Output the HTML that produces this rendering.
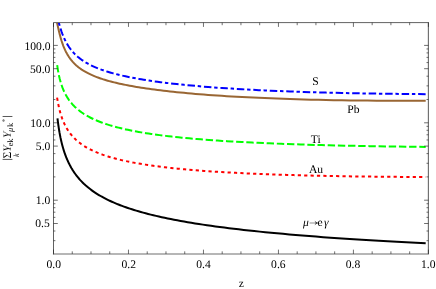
<!DOCTYPE html>
<html><head><meta charset="utf-8"><title>plot</title>
<style>html,body{margin:0;padding:0;background:#fff}svg{display:block;will-change:transform}text{text-rendering:geometricPrecision;font-family:"Liberation Serif",serif;fill:#000}</style></head><body>
<svg width="436" height="289" viewBox="0 0 436 289">
<defs><clipPath id="c"><rect x="53.5" y="22.6" width="374.9" height="231.35"/></clipPath></defs>
<g clip-path="url(#c)" fill="none" stroke-width="2">
<path d="M57.48,118.35 L57.59,119.28 L57.70,120.21 L57.81,121.14 L57.93,122.06 L58.05,122.99 L58.18,123.92 L58.30,124.84 L58.43,125.76 L58.57,126.69 L58.71,127.61 L58.85,128.52 L58.99,129.44 L59.14,130.36 L59.30,131.27 L59.45,132.19 L59.62,133.10 L59.78,134.01 L59.95,134.92 L60.13,135.83 L60.31,136.73 L60.49,137.64 L60.69,138.54 L60.88,139.44 L61.08,140.34 L61.29,141.24 L61.50,142.13 L61.72,143.03 L61.94,143.92 L62.17,144.81 L62.41,145.69 L62.65,146.58 L62.90,147.46 L63.15,148.34 L63.42,149.22 L63.69,150.10 L63.96,150.97 L64.25,151.85 L64.54,152.72 L64.84,153.59 L65.15,154.45 L65.47,155.32 L65.79,156.18 L66.13,157.04 L66.47,157.89 L66.83,158.75 L67.19,159.60 L67.56,160.45 L67.94,161.30 L68.34,162.14 L68.74,162.99 L69.15,163.83 L69.58,164.66 L70.02,165.50 L70.47,166.33 L70.93,167.16 L71.40,167.99 L71.89,168.81 L72.39,169.64 L72.91,170.46 L73.43,171.27 L73.98,172.09 L74.53,172.90 L75.11,173.71 L75.70,174.52 L76.30,175.32 L76.92,176.12 L77.56,176.92 L78.21,177.72 L78.88,178.51 L79.58,179.30 L80.28,180.09 L81.01,180.87 L81.76,181.66 L82.53,182.44 L83.32,183.21 L84.13,183.99 L84.97,184.76 L85.82,185.53 L86.70,186.29 L87.61,187.06 L88.54,187.82 L89.49,188.58 L90.47,189.33 L91.48,190.08 L92.51,190.83 L93.57,191.58 L94.66,192.32 L95.78,193.06 L96.93,193.80 L98.11,194.53 L99.33,195.27 L100.58,196.00 L101.86,196.72 L103.17,197.45 L104.52,198.17 L105.91,198.89 L107.34,199.60 L108.81,200.31 L110.31,201.02 L111.86,201.73 L113.45,202.43 L115.08,203.13 L116.75,203.83 L118.47,204.53 L120.24,205.22 L122.06,205.91 L123.92,206.59 L125.84,207.28 L127.81,207.96 L129.83,208.64 L131.91,209.31 L134.04,209.98 L136.24,210.65 L138.49,211.32 L140.80,211.98 L143.18,212.64 L145.62,213.30 L148.13,213.95 L150.70,214.60 L153.35,215.25 L156.06,215.90 L158.86,216.54 L161.72,217.18 L164.67,217.82 L167.69,218.45 L170.80,219.08 L173.99,219.71 L177.27,220.33 L180.64,220.96 L184.10,221.57 L187.66,222.19 L191.31,222.80 L195.06,223.41 L198.91,224.02 L202.87,224.62 L206.94,225.23 L211.11,225.82 L215.40,226.42 L219.81,227.01 L224.33,227.60 L228.98,228.18 L233.76,228.77 L238.67,229.35 L243.71,229.92 L248.88,230.50 L254.20,231.07 L259.66,231.63 L265.27,232.20 L271.04,232.76 L276.96,233.32 L283.04,233.87 L289.29,234.42 L295.70,234.97 L302.30,235.52 L309.07,236.06 L316.02,236.60 L323.17,237.13 L330.51,237.67 L338.05,238.20 L345.79,238.72 L353.75,239.24 L361.92,239.76 L370.31,240.28 L378.94,240.79 L387.79,241.30 L396.89,241.81 L406.24,242.31 L415.84,242.81 L425.70,243.30" stroke="#000000"/>
<path d="M57.11,97.68 L57.21,98.31 L57.31,98.95 L57.42,99.59 L57.53,100.23 L57.64,100.87 L57.76,101.51 L57.87,102.16 L58.00,102.81 L58.12,103.46 L58.25,104.11 L58.38,104.76 L58.52,105.41 L58.66,106.07 L58.80,106.72 L58.95,107.38 L59.10,108.04 L59.25,108.69 L59.41,109.35 L59.58,110.01 L59.75,110.66 L59.92,111.32 L60.10,111.98 L60.28,112.64 L60.47,113.29 L60.67,113.95 L60.87,114.60 L61.07,115.26 L61.28,115.91 L61.50,116.56 L61.72,117.22 L61.95,117.87 L62.18,118.52 L62.43,119.16 L62.67,119.81 L62.93,120.46 L63.19,121.10 L63.46,121.74 L63.74,122.38 L64.02,123.02 L64.31,123.66 L64.62,124.29 L64.92,124.92 L65.24,125.55 L65.57,126.18 L65.90,126.81 L66.25,127.43 L66.60,128.06 L66.97,128.68 L67.34,129.29 L67.73,129.91 L68.12,130.52 L68.53,131.13 L68.95,131.74 L69.38,132.35 L69.82,132.95 L70.27,133.55 L70.74,134.15 L71.22,134.74 L71.71,135.33 L72.22,135.92 L72.74,136.51 L73.27,137.09 L73.82,137.67 L74.39,138.25 L74.97,138.82 L75.57,139.40 L76.18,139.97 L76.81,140.53 L77.46,141.10 L78.13,141.66 L78.81,142.21 L79.52,142.77 L80.24,143.32 L80.98,143.87 L81.75,144.41 L82.53,144.95 L83.34,145.49 L84.17,146.03 L85.02,146.56 L85.90,147.09 L86.80,147.61 L87.73,148.14 L88.68,148.65 L89.66,149.17 L90.66,149.68 L91.70,150.19 L92.76,150.70 L93.85,151.20 L94.97,151.70 L96.12,152.20 L97.31,152.69 L98.53,153.18 L99.78,153.67 L101.07,154.15 L102.39,154.63 L103.75,155.10 L105.15,155.58 L106.58,156.04 L108.06,156.51 L109.58,156.97 L111.14,157.43 L112.74,157.88 L114.39,158.33 L116.08,158.78 L117.82,159.22 L119.61,159.66 L121.45,160.10 L123.34,160.53 L125.28,160.96 L127.28,161.38 L129.33,161.80 L131.44,162.22 L133.60,162.63 L135.83,163.04 L138.12,163.44 L140.48,163.84 L142.89,164.24 L145.38,164.63 L147.94,165.02 L150.56,165.40 L153.26,165.78 L156.04,166.15 L158.89,166.52 L161.82,166.89 L164.83,167.25 L167.93,167.61 L171.11,167.96 L174.38,168.30 L177.74,168.64 L181.20,168.98 L184.75,169.31 L188.40,169.64 L192.15,169.96 L196.00,170.27 L199.97,170.58 L204.04,170.89 L208.23,171.19 L212.53,171.48 L216.95,171.77 L221.50,172.05 L226.17,172.33 L230.97,172.60 L235.91,172.86 L240.98,173.12 L246.19,173.37 L251.55,173.61 L257.06,173.85 L262.72,174.08 L268.54,174.30 L274.52,174.52 L280.67,174.72 L286.98,174.93 L293.48,175.12 L300.15,175.31 L307.01,175.48 L314.06,175.65 L321.31,175.81 L328.75,175.97 L336.41,176.11 L344.28,176.25 L352.36,176.38 L360.68,176.49 L369.22,176.60 L378.00,176.70 L387.02,176.79 L396.30,176.87 L405.83,176.94 L415.63,177.00 L425.70,177.05" stroke="#ff0000" stroke-dasharray="3.2 3.187"/>
<path d="M57.20,65.22 L57.30,65.97 L57.41,66.71 L57.52,67.44 L57.63,68.17 L57.74,68.90 L57.86,69.63 L57.98,70.35 L58.10,71.06 L58.23,71.78 L58.36,72.49 L58.50,73.19 L58.63,73.90 L58.78,74.60 L58.92,75.29 L59.07,75.99 L59.23,76.68 L59.38,77.37 L59.55,78.05 L59.71,78.73 L59.89,79.41 L60.06,80.08 L60.24,80.76 L60.43,81.43 L60.62,82.09 L60.82,82.76 L61.02,83.42 L61.23,84.08 L61.44,84.73 L61.66,85.38 L61.89,86.03 L62.12,86.68 L62.36,87.33 L62.60,87.97 L62.86,88.61 L63.11,89.24 L63.38,89.88 L63.65,90.51 L63.93,91.14 L64.22,91.77 L64.52,92.39 L64.82,93.01 L65.14,93.63 L65.46,94.25 L65.79,94.87 L66.13,95.48 L66.48,96.09 L66.84,96.70 L67.21,97.30 L67.59,97.90 L67.98,98.50 L68.38,99.10 L68.79,99.70 L69.21,100.29 L69.65,100.88 L70.09,101.47 L70.55,102.06 L71.02,102.64 L71.51,103.22 L72.01,103.80 L72.52,104.38 L73.04,104.96 L73.59,105.53 L74.14,106.10 L74.71,106.67 L75.30,107.23 L75.90,107.79 L76.52,108.35 L77.16,108.91 L77.81,109.47 L78.48,110.02 L79.18,110.57 L79.89,111.12 L80.62,111.66 L81.37,112.21 L82.14,112.75 L82.93,113.28 L83.74,113.82 L84.58,114.35 L85.44,114.88 L86.32,115.41 L87.23,115.93 L88.16,116.45 L89.12,116.97 L90.11,117.49 L91.12,118.00 L92.16,118.51 L93.23,119.02 L94.33,119.53 L95.46,120.03 L96.62,120.53 L97.81,121.03 L99.04,121.52 L100.30,122.01 L101.59,122.50 L102.92,122.98 L104.29,123.46 L105.69,123.94 L107.14,124.41 L108.62,124.89 L110.14,125.35 L111.71,125.82 L113.32,126.28 L114.98,126.74 L116.68,127.19 L118.42,127.64 L120.22,128.09 L122.07,128.54 L123.96,128.98 L125.91,129.41 L127.91,129.85 L129.97,130.28 L132.09,130.70 L134.26,131.12 L136.49,131.54 L138.79,131.96 L141.15,132.37 L143.57,132.77 L146.07,133.17 L148.63,133.57 L151.26,133.97 L153.96,134.35 L156.74,134.74 L159.60,135.12 L162.53,135.50 L165.55,135.87 L168.65,136.24 L171.83,136.60 L175.10,136.96 L178.47,137.31 L181.92,137.66 L185.48,138.01 L189.13,138.34 L192.88,138.68 L196.73,139.01 L200.69,139.33 L204.77,139.65 L208.95,139.97 L213.25,140.28 L217.67,140.58 L222.21,140.88 L226.88,141.17 L231.67,141.46 L236.60,141.74 L241.66,142.02 L246.87,142.29 L252.22,142.56 L257.71,142.82 L263.36,143.07 L269.17,143.32 L275.13,143.56 L281.26,143.80 L287.56,144.03 L294.04,144.25 L300.69,144.47 L307.53,144.68 L314.56,144.89 L321.78,145.09 L329.20,145.28 L336.82,145.46 L344.66,145.64 L352.71,145.82 L360.99,145.98 L369.49,146.14 L378.23,146.29 L387.22,146.44 L396.45,146.58 L405.93,146.71 L415.68,146.83 L425.70,146.95" stroke="#00ff00" stroke-dasharray="7.4 2.78" stroke-dashoffset="0.15"/>
<path d="M57.00,22.60 L57.07,22.90 L57.17,23.34 L57.28,23.79 L57.39,24.27 L57.50,24.76 L57.62,25.28 L57.73,25.81 L57.86,26.36 L57.98,26.92 L58.11,27.50 L58.24,28.10 L58.38,28.70 L58.52,29.32 L58.66,29.96 L58.81,30.60 L58.96,31.25 L59.12,31.91 L59.28,32.58 L59.45,33.26 L59.62,33.94 L59.79,34.63 L59.98,35.33 L60.16,36.03 L60.35,36.74 L60.55,37.45 L60.75,38.16 L60.96,38.88 L61.18,39.59 L61.40,40.31 L61.62,41.04 L61.86,41.76 L62.10,42.48 L62.34,43.20 L62.60,43.92 L62.86,44.64 L63.13,45.36 L63.40,46.08 L63.69,46.80 L63.98,47.51 L64.28,48.22 L64.59,48.93 L64.91,49.63 L65.24,50.34 L65.58,51.03 L65.92,51.73 L66.28,52.42 L66.65,53.10 L67.03,53.79 L67.42,54.46 L67.81,55.13 L68.23,55.80 L68.65,56.46 L69.08,57.12 L69.53,57.77 L69.99,58.42 L70.47,59.06 L70.95,59.69 L71.46,60.32 L71.97,60.94 L72.50,61.56 L73.05,62.17 L73.61,62.78 L74.19,63.38 L74.78,63.98 L75.40,64.57 L76.02,65.15 L76.67,65.73 L77.34,66.30 L78.02,66.87 L78.73,67.43 L79.45,67.98 L80.20,68.53 L80.97,69.07 L81.75,69.61 L82.57,70.15 L83.40,70.67 L84.26,71.20 L85.15,71.71 L86.05,72.22 L86.99,72.73 L87.95,73.23 L88.94,73.73 L89.96,74.22 L91.01,74.71 L92.09,75.20 L93.20,75.68 L94.34,76.15 L95.51,76.62 L96.72,77.09 L97.96,77.55 L99.24,78.01 L100.55,78.46 L101.90,78.91 L103.29,79.36 L104.72,79.81 L106.20,80.25 L107.71,80.68 L109.27,81.12 L110.87,81.55 L112.52,81.98 L114.22,82.40 L115.96,82.82 L117.76,83.24 L119.60,83.66 L121.50,84.07 L123.46,84.48 L125.47,84.89 L127.53,85.29 L129.66,85.70 L131.85,86.10 L134.10,86.50 L136.42,86.89 L138.80,87.28 L141.25,87.67 L143.77,88.06 L146.37,88.45 L149.04,88.83 L151.78,89.21 L154.61,89.59 L157.51,89.97 L160.50,90.34 L163.58,90.71 L166.74,91.08 L169.99,91.44 L173.34,91.80 L176.79,92.16 L180.33,92.51 L183.97,92.87 L187.72,93.21 L191.58,93.56 L195.55,93.90 L199.63,94.23 L203.83,94.57 L208.15,94.89 L212.59,95.22 L217.16,95.53 L221.87,95.84 L226.71,96.15 L231.68,96.45 L236.80,96.75 L242.07,97.03 L247.49,97.31 L253.06,97.59 L258.80,97.85 L264.70,98.11 L270.77,98.36 L277.01,98.60 L283.43,98.83 L290.04,99.05 L296.84,99.26 L303.83,99.46 L311.03,99.65 L318.43,99.83 L326.04,99.99 L333.87,100.14 L341.93,100.28 L350.22,100.40 L358.74,100.51 L367.52,100.60 L376.54,100.68 L385.82,100.73 L395.37,100.77 L405.20,100.79 L415.30,100.79 L425.70,100.77" stroke="#996633"/>
<path d="M58.79,22.60 L58.81,22.66 L58.96,23.22 L59.12,23.78 L59.28,24.36 L59.45,24.95 L59.62,25.54 L59.79,26.15 L59.98,26.76 L60.16,27.38 L60.35,28.00 L60.55,28.63 L60.75,29.27 L60.96,29.91 L61.18,30.56 L61.40,31.21 L61.62,31.86 L61.86,32.52 L62.10,33.18 L62.34,33.84 L62.60,34.50 L62.86,35.17 L63.13,35.83 L63.40,36.50 L63.69,37.17 L63.98,37.84 L64.28,38.51 L64.59,39.18 L64.91,39.85 L65.24,40.51 L65.58,41.18 L65.92,41.85 L66.28,42.51 L66.65,43.17 L67.03,43.83 L67.42,44.49 L67.81,45.15 L68.23,45.80 L68.65,46.45 L69.08,47.10 L69.53,47.74 L69.99,48.38 L70.47,49.02 L70.95,49.66 L71.46,50.29 L71.97,50.91 L72.50,51.54 L73.05,52.16 L73.61,52.78 L74.19,53.39 L74.78,54.00 L75.40,54.60 L76.02,55.20 L76.67,55.80 L77.34,56.39 L78.02,56.98 L78.73,57.56 L79.45,58.14 L80.20,58.72 L80.97,59.29 L81.75,59.86 L82.57,60.42 L83.40,60.98 L84.26,61.53 L85.15,62.08 L86.05,62.63 L86.99,63.17 L87.95,63.71 L88.94,64.24 L89.96,64.77 L91.01,65.29 L92.09,65.81 L93.20,66.33 L94.34,66.84 L95.51,67.35 L96.72,67.86 L97.96,68.36 L99.24,68.86 L100.55,69.35 L101.90,69.84 L103.29,70.32 L104.72,70.81 L106.20,71.29 L107.71,71.76 L109.27,72.23 L110.87,72.70 L112.52,73.16 L114.22,73.63 L115.96,74.08 L117.76,74.54 L119.60,74.99 L121.50,75.44 L123.46,75.88 L125.47,76.32 L127.53,76.76 L129.66,77.19 L131.85,77.63 L134.10,78.05 L136.42,78.48 L138.80,78.90 L141.25,79.32 L143.77,79.74 L146.37,80.15 L149.04,80.56 L151.78,80.96 L154.61,81.37 L157.51,81.76 L160.50,82.16 L163.58,82.55 L166.74,82.94 L169.99,83.33 L173.34,83.71 L176.79,84.09 L180.33,84.46 L183.97,84.83 L187.72,85.20 L191.58,85.56 L195.55,85.92 L199.63,86.28 L203.83,86.63 L208.15,86.97 L212.59,87.31 L217.16,87.65 L221.87,87.98 L226.71,88.30 L231.68,88.62 L236.80,88.94 L242.07,89.25 L247.49,89.55 L253.06,89.85 L258.80,90.13 L264.70,90.42 L270.77,90.69 L277.01,90.96 L283.43,91.22 L290.04,91.48 L296.84,91.72 L303.83,91.96 L311.03,92.18 L318.43,92.40 L326.04,92.61 L333.87,92.81 L341.93,92.99 L350.22,93.17 L358.74,93.33 L367.52,93.49 L376.54,93.63 L385.82,93.76 L395.37,93.87 L405.20,93.97 L415.30,94.06 L425.70,94.13" stroke="#0000ff" stroke-dasharray="7.5 2.76 3.42 2.81" stroke-dashoffset="10.4"/>
</g>
<path d="M53.5,253.95V22.6H428.4" fill="none" stroke="#5a5a5a" stroke-width="0.95" stroke-linecap="square"/><path d="M428.4,22.6V253.95H53.5" fill="none" stroke="#6e6e6e" stroke-width="1.15" stroke-linecap="square"/>
<path d="M53.50,253.95v-4.3M53.50,22.6v4.3M72.25,253.95v-2.6M72.25,22.6v2.6M90.99,253.95v-2.6M90.99,22.6v2.6M109.74,253.95v-2.6M109.74,22.6v2.6M128.48,253.95v-4.3M128.48,22.6v4.3M147.22,253.95v-2.6M147.22,22.6v2.6M165.97,253.95v-2.6M165.97,22.6v2.6M184.72,253.95v-2.6M184.72,22.6v2.6M203.46,253.95v-4.3M203.46,22.6v4.3M222.20,253.95v-2.6M222.20,22.6v2.6M240.95,253.95v-2.6M240.95,22.6v2.6M259.69,253.95v-2.6M259.69,22.6v2.6M278.44,253.95v-4.3M278.44,22.6v4.3M297.19,253.95v-2.6M297.19,22.6v2.6M315.93,253.95v-2.6M315.93,22.6v2.6M334.67,253.95v-2.6M334.67,22.6v2.6M353.42,253.95v-4.3M353.42,22.6v4.3M372.17,253.95v-2.6M372.17,22.6v2.6M390.91,253.95v-2.6M390.91,22.6v2.6M409.66,253.95v-2.6M409.66,22.6v2.6M428.40,253.95v-4.3M428.40,22.6v4.3M53.5,45.40h4.3M428.4,45.40h-4.3M53.5,68.70h4.3M428.4,68.70h-4.3M53.5,122.80h4.3M428.4,122.80h-4.3M53.5,146.10h4.3M428.4,146.10h-4.3M53.5,200.20h4.3M428.4,200.20h-4.3M53.5,223.50h4.3M428.4,223.50h-4.3M53.5,240.67h1.9M428.4,240.67h-1.9M53.5,231.00h1.9M428.4,231.00h-1.9M53.5,217.37h1.9M428.4,217.37h-1.9M53.5,212.19h1.9M428.4,212.19h-1.9M53.5,207.70h1.9M428.4,207.70h-1.9M53.5,203.74h1.9M428.4,203.74h-1.9M53.5,176.90h1.9M428.4,176.90h-1.9M53.5,163.27h1.9M428.4,163.27h-1.9M53.5,153.60h1.9M428.4,153.60h-1.9M53.5,139.97h1.9M428.4,139.97h-1.9M53.5,134.79h1.9M428.4,134.79h-1.9M53.5,130.30h1.9M428.4,130.30h-1.9M53.5,126.34h1.9M428.4,126.34h-1.9M53.5,99.50h1.9M428.4,99.50h-1.9M53.5,85.87h1.9M428.4,85.87h-1.9M53.5,76.20h1.9M428.4,76.20h-1.9M53.5,62.57h1.9M428.4,62.57h-1.9M53.5,57.39h1.9M428.4,57.39h-1.9M53.5,52.90h1.9M428.4,52.90h-1.9M53.5,48.94h1.9M428.4,48.94h-1.9" fill="none" stroke="#222" stroke-width="0.65"/>
<text x="50.60" y="49.80" font-size="11.6" text-anchor="end">100.0</text>
<text x="50.35" y="72.80" font-size="11.6" text-anchor="end">50.0</text>
<text x="50.60" y="127.20" font-size="11.6" text-anchor="end">10.0</text>
<text x="50.35" y="149.80" font-size="11.6" text-anchor="end">5.0</text>
<text x="50.30" y="203.90" font-size="11.6" text-anchor="end">1.0</text>
<text x="49.70" y="227.10" font-size="11.6" text-anchor="end">0.5</text>
<text x="53.80" y="267.8" font-size="11.6" text-anchor="middle">0.0</text>
<text x="128.78" y="267.8" font-size="11.6" text-anchor="middle">0.2</text>
<text x="203.56" y="267.8" font-size="11.6" text-anchor="middle">0.4</text>
<text x="278.34" y="267.8" font-size="11.6" text-anchor="middle">0.6</text>
<text x="353.02" y="267.8" font-size="11.6" text-anchor="middle">0.8</text>
<text x="428.30" y="267.8" font-size="11.6" text-anchor="middle">1.0</text>
<text x="241.3" y="286.6" font-size="11.6" text-anchor="middle">z</text>
<text x="315.5" y="85" font-size="11.6" text-anchor="middle">S</text>
<text x="353.4" y="113" font-size="11.6" text-anchor="middle">Pb</text>
<text x="315.7" y="143" font-size="11.6" text-anchor="middle">Ti</text>
<text x="316" y="173" font-size="11.6" text-anchor="middle">Au</text>
<text x="306.0" y="225.8" font-size="11.6" text-anchor="middle" font-style="italic">μ</text><text x="320.0" y="225.8" font-size="11.6" text-anchor="middle">e</text><text x="326.3" y="225.8" font-size="11.6" text-anchor="middle" font-style="italic">γ</text>
<path d="M309.6,223H317" fill="none" stroke="#444" stroke-width="0.6"/><path d="M314.9,221.4Q315.9,222.7 317.6,223Q315.9,223.3 314.9,224.6" fill="none" stroke="#111" stroke-width="0.8"/>
<g transform="translate(0,159.4) rotate(-90)"><path d="M0,2.6V12.4M42.9,2.6V12.4" stroke="#222" stroke-width="0.75" fill="none"/><text x="4.3" y="10.7" font-size="11.6" text-anchor="middle">Σ</text><text x="10.8" y="10.7" font-size="11.6" text-anchor="middle" font-style="italic" stroke="#fff" stroke-width="0.14">Y</text><text x="14.9" y="12.9" font-size="8.3" text-anchor="middle">e</text><text x="18.75" y="12.9" font-size="8.3" text-anchor="middle">k</text><text x="24.7" y="10.7" font-size="11.6" text-anchor="middle" font-style="italic" stroke="#fff" stroke-width="0.14">Y</text><text x="29.45" y="12.9" font-size="8.3" text-anchor="middle" font-style="italic">μ</text><text x="34.5" y="12.9" font-size="8.3" text-anchor="middle">k</text><text style="fill:#555" x="39.0" y="7.2" font-size="7.4" text-anchor="middle">*</text><text x="4.3" y="19.0" font-size="8.0" text-anchor="middle" font-style="italic">k</text></g>
</svg></body></html>
